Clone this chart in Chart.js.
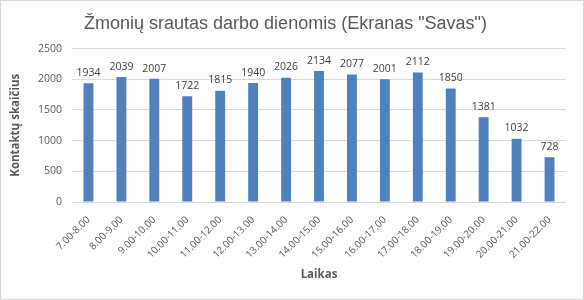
<!DOCTYPE html>
<html>
<head>
<meta charset="utf-8">
<script src="https://cdn.jsdelivr.net/npm/chart.js@4"></script>
<style>
    html, body { margin: 0; padding: 0; background: #fff; }
    #wrap { width: 582px; height: 298px; border: 1px solid #d9d9d9; position: relative; }
</style>
</head>
<body>
<div id="wrap"><canvas id="mainChart" width="582" height="298"></canvas></div>
<script>
// --- Duomenys ---
const categories = ['7.00-8.00', '8.00-9.00', '9.00-10.00', '10.00-11.00', '11.00-12.00', '12.00-13.00',
    '13.00-14.00', '14.00-15.00', '15.00-16.00', '16.00-17.00', '17.00-18.00', '18.00-19.00',
    '19.00-20.00', '20.00-21.00', '21.00-22.00'];
const contacts = [1934, 2039, 2007, 1722, 1815, 1940, 2026, 2134, 2077, 2001, 2112, 1850, 1381, 1032, 728];
const yTicks = [0, 500, 1000, 1500, 2000, 2500];

const FONT = "'Open Sans', 'Liberation Sans', sans-serif";
const TITLE_FONT = "'Liberation Sans', 'Open Sans', sans-serif";
const textColor = '#595959';

// Reikšmės virš stulpelių
const valueLabels = {
    id: 'valueLabels',
    afterDatasetsDraw(chart) {
        const { ctx } = chart;
        const meta = chart.getDatasetMeta(0);
        ctx.save();
        ctx.font = `10.5px ${FONT}`;
        ctx.fillStyle = '#404040';
        ctx.textAlign = 'center';
        ctx.textBaseline = 'bottom';
        meta.data.forEach((bar, i) => {
            ctx.fillText(contacts[i], bar.x, bar.y - 5);
        });
        ctx.restore();
    }
};

const ctx = document.getElementById('mainChart').getContext('2d');
const chart = new Chart(ctx, {
    type: 'bar',
    data: {
        labels: categories,
        datasets: [{ data: contacts, backgroundColor: '#4f81bd', barPercentage: 0.3, categoryPercentage: 1 }]
    },
    options: {
        responsive: false, animation: false,
        layout: { padding: { left: 4, right: 17, top: 0, bottom: 17 } },
        plugins: {
            legend: { display: false },
            tooltip: { enabled: false },
            title: {
                display: true,
                text: 'Žmonių srautas darbo dienomis (Ekranas "Savas")',
                color: textColor,
                font: { family: TITLE_FONT, size: 18, weight: 'normal' },
                padding: { top: 12, bottom: 14 }
            }
        },
        scales: {
            x: {
                grid: { display: false },
                border: { display: false },
                afterFit: axis => { axis.height = 80; },
                ticks: { color: textColor, font: { family: FONT, size: 10 }, minRotation: 45, maxRotation: 45, autoSkip: false, padding: 4 },
                title: { display: true, text: 'Laikas', color: textColor, font: { family: FONT, size: 11.5, weight: 'bold' }, padding: { top: 2, bottom: 0 } }
            },
            y: {
                min: 0, max: 2500,
                afterBuildTicks: axis => { axis.ticks = yTicks.map(v => ({ value: v })); },
                afterFit: axis => { axis.width = 67; },
                grid: { color: '#d9d9d9', drawTicks: false },
                border: { display: false },
                ticks: { color: textColor, font: { family: FONT, size: 10.5 }, padding: 10, callback: v => String(v) },
                title: { display: true, text: 'Kontaktų skaičius', color: textColor, font: { family: FONT, size: 11.5, weight: 'bold' }, padding: { bottom: 6 } }
            }
        }
    },
    plugins: [valueLabels]
});
</script>
</body>
</html>
